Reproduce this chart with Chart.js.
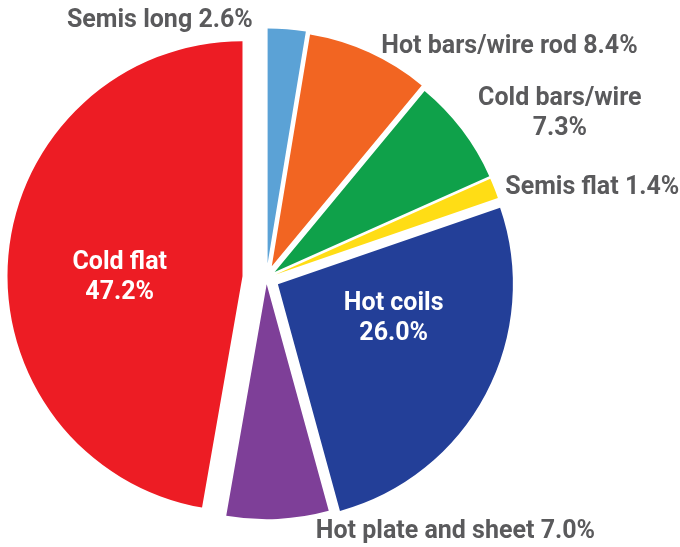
<!DOCTYPE html>
<html>
<head>
<meta charset="utf-8">
<script src="https://cdn.jsdelivr.net/npm/chart.js@4"></script>
<style>
  html, body { margin: 0; padding: 0; background: #ffffff; }
  #wrap { width: 680px; height: 547px; position: relative; }
</style>
</head>
<body>
<div id="wrap"><canvas id="c" width="680" height="547"></canvas></div>
<script>
// ---- data ----
const categories = ['Semis long', 'Hot bars/wire rod', 'Cold bars/wire', 'Semis flat', 'Hot coils', 'Hot plate and sheet', 'Cold flat'];
const shares = [2.6, 8.4, 7.3, 1.4, 26.0, 7.0, 47.2];

// ---- style ----
const colors = ['#5BA2D6', '#F26522', '#0FA14A', '#FFDD15', '#233F98', '#7E3F98', '#ED1C24'];
const explode = [14.8, 13, 10.4, 10, 13, 6, 24];   // radial pull-out of each slice, px
const labelStyle = [
  { inside: false, split: false, align: 'right',  dx: -34, dy: -8,  color: '#5A5A5C' },
  { inside: false, split: false, align: 'left',   dx: 12,  dy: -6,  color: '#5A5A5C' },
  { inside: false, split: true,  align: 'center', dx: 98,  dy: -16, color: '#5A5A5C' },
  { inside: false, split: false, align: 'left',   dx: 11,  dy: -1,  color: '#5A5A5C' },
  { inside: true,  split: true,  align: 'center', dx: 1.5, dy: -26, color: '#FFFFFF' },
  { inside: false, split: false, align: 'left',   dx: 38,  dy: 13,  color: '#5A5A5C' },
  { inside: true,  split: true,  align: 'center', dx: 6,   dy: 13,  color: '#FFFFFF' }
];
const FONT = 'bold 25px Roboto, "DejaVu Sans", sans-serif';
const LINE_H = 30;

const explodePlugin = {
  id: 'explodeSlices',
  afterDatasetsUpdate(chart) {
    const meta = chart.getDatasetMeta(0);
    meta.data.forEach((arc, i) => {
      const mid = (arc.startAngle + arc.endAngle) / 2;
      arc.x += Math.cos(mid) * explode[i];
      arc.y += Math.sin(mid) * explode[i];
    });
  }
};

const labelPlugin = {
  id: 'sliceLabels',
  afterDatasetsDraw(chart) {
    const ctx = chart.ctx;
    const meta = chart.getDatasetMeta(0);
    ctx.save();
    ctx.font = FONT;
    ctx.textBaseline = 'middle';
    meta.data.forEach((arc, i) => {
      const st = labelStyle[i];
      const mid = (arc.startAngle + arc.endAngle) / 2;
      const f = st.inside ? 0.55 : 1;
      const bx = arc.x + Math.cos(mid) * arc.outerRadius * f + st.dx;
      const by = arc.y + Math.sin(mid) * arc.outerRadius * f + st.dy;
      const pct = shares[i].toFixed(1) + '%';
      const lines = st.split ? [categories[i], pct] : [categories[i] + ' ' + pct];
      ctx.fillStyle = st.color;
      ctx.textAlign = st.align;
      const y0 = by - (lines.length - 1) * LINE_H / 2;
      lines.forEach((t, k) => ctx.fillText(t, bx, y0 + k * LINE_H));
    });
    ctx.restore();
  }
};

new Chart(document.getElementById('c'), {
  type: 'pie',
  data: {
    labels: categories,
    datasets: [{
      data: shares,
      backgroundColor: colors,
      borderWidth: 0
    }]
  },
  options: {
    responsive: false,
    animation: false,
    events: [],
    layout: { padding: { left: 31.4, right: 178.6, top: 43.2, bottom: 33.8 } },
    plugins: { legend: { display: false }, tooltip: { enabled: false } }
  },
  plugins: [explodePlugin, labelPlugin]
});
</script>
</body>
</html>
